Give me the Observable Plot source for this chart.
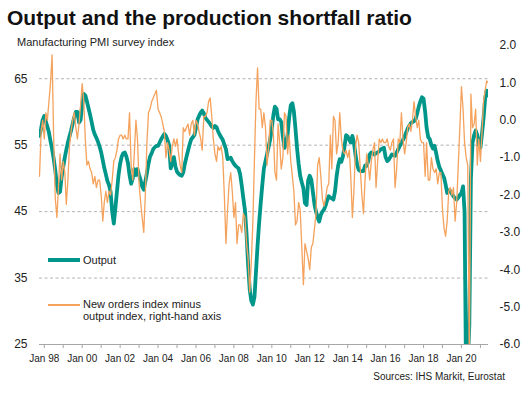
<!DOCTYPE html>
<html><head><meta charset="utf-8">
<script src="https://cdn.jsdelivr.net/npm/d3@7"></script>
<script src="https://cdn.jsdelivr.net/npm/@observablehq/plot@0.6"></script>
<style>
body{margin:0;background:#fff}
#wrap{position:relative;width:529px;height:394px;font-family:"Liberation Sans",Arial,Helvetica,sans-serif;color:#222;overflow:hidden;background:#fff}
#chart{position:absolute;left:0;top:0}
.abs{position:absolute;white-space:nowrap}
</style></head><body>
<div id="wrap">
<div id="chart"></div>
<div class="abs" style="left:7px;top:7px;font-size:21px;line-height:21px;font-weight:bold;color:#111">Output and the production shortfall ratio</div>
<div class="abs" style="left:17px;top:36.5px;font-size:11px;line-height:11px">Manufacturing PMI survey index</div>
<div class="abs" style="left:48px;top:258.3px;width:32px;height:3.5px;background:#00968a"></div>
<div class="abs" style="left:83px;top:254.5px;font-size:11px;line-height:11px">Output</div>
<div class="abs" style="left:48px;top:304.3px;width:32px;height:1.4px;background:#f5a25d"></div>
<div class="abs" style="left:83px;top:299.3px;font-size:11px;line-height:11.7px">New orders index minus<br>output index, right-hand axis</div>
<div class="abs" style="right:24px;top:372px;font-size:10px;line-height:10px">Sources: IHS Markit, Eurostat</div>
</div>
<script>
// Monthly values, Oct 1997 .. Jun 2021
const output = [
  56.4, 57.5, 58.8,
  59.4, 58.5, 57.8, 56.9, 55.6, 54.4, 53.0, 51.2, 49.0, 47.8, 48.0, 50.2,
  51.7, 53.2, 54.3, 55.4, 56.3, 57.2, 58.2, 59.2, 60.0, 60.0, 58.4, 58.8,
  61.0, 62.7, 62.5, 61.6, 60.6, 59.6, 58.5, 57.3, 56.6, 56.1, 55.5, 54.8,
  53.9, 52.7, 51.6, 50.6, 49.6, 49.0, 48.0, 45.0, 43.2, 45.5, 48.0, 50.5,
  52.2, 53.3, 53.8, 53.9, 53.3, 52.3, 50.5, 49.2, 50.0, 51.4, 50.5, 51.4,
  50.5, 49.7, 48.8, 48.3, 49.5, 50.8, 52.2, 53.3, 53.8, 54.4, 54.7, 54.9,
  54.9, 55.4, 55.9, 56.3, 56.7, 56.4, 55.8, 55.0, 51.5, 52.3, 53.2, 51.8,
  51.0, 50.7, 50.5, 50.4, 50.9, 52.2, 53.2, 54.2, 55.1, 55.9, 56.2, 56.5,
  57.6, 58.9, 59.4, 59.9, 60.2, 59.8, 59.1, 58.8, 58.5, 58.2, 57.8, 57.6,
  57.9, 57.7, 57.1, 56.6, 56.2, 55.8, 55.1, 54.4, 52.9, 53.0, 53.1, 52.6,
  52.2, 51.9, 51.7, 51.5, 50.6, 48.9, 47.0, 45.2, 41.6, 37.0, 33.3, 31.6,
  31.0, 32.2, 35.8, 39.9, 43.3, 46.3, 49.0, 51.5, 52.6, 53.7, 54.8, 55.9,
  57.6, 59.6, 60.8, 60.5, 58.9, 58.9, 58.5, 56.3, 54.6, 55.3, 56.6, 59.2,
  61.0, 61.3, 60.1, 57.5, 54.6, 52.2, 50.4, 49.4, 48.5, 46.3, 46.0, 49.7,
  50.4, 49.8, 48.0, 46.1, 45.0, 44.1, 43.5, 44.5, 45.0, 45.3, 45.9, 46.7,
  47.3, 47.1, 47.0, 46.8, 48.0, 50.3, 51.9, 52.9, 52.5, 53.3, 54.8, 56.5,
  56.3, 55.8, 55.4, 56.4, 55.4, 53.5, 52.1, 51.3, 51.1, 51.1, 51.1, 51.9,
  51.9, 52.6, 53.6, 53.9, 53.8, 53.6, 53.8, 53.9, 54.1, 54.4, 54.5, 54.6,
  53.2, 52.6, 52.8, 53.2, 53.6, 53.5, 53.4, 53.9, 54.4, 54.9, 55.4, 55.8,
  56.3, 56.9, 57.5, 57.9, 58.3, 58.5, 58.6, 58.9, 59.8, 60.8, 61.6, 62.2,
  62.0, 60.0, 57.6, 56.2, 55.9, 55.0, 54.5, 54.9, 53.8, 52.6, 51.7, 51.2,
  50.6, 50.1, 49.1, 47.8, 48.2, 48.1, 47.7, 47.3, 47.0, 46.8, 47.1, 47.5,
  47.8, 48.8, 45.0, 18.0, 22.0, 28.0, 50.0, 55.4, 56.5, 57.2, 56.5, 55.0,
  54.6, 56.8, 59.0, 62.0, 63.2, 62.5
];
// New orders index minus output index (right-hand axis)
const shortfall = [
  -1.5, -0.3, 0.0,
  -0.5, 0.2, 0.0, 0.5, 1.0, 1.75, -0.5, -2.1, -2.6, -1.8, -0.9, -1.6,
  -1.1, -1.4, -2.25, -1.6, -0.7, -0.3, 0.0, 0.2, -0.2, -0.5, -0.1, 0.4,
  0.98, 0.5, -0.5, -1.2, -1.1, -1.3, -1.4, -1.7, -1.5, -1.8, -1.6, -1.6,
  -2.0, -2.7, -2.2, -1.9, -2.2, -1.9, -2.0, -1.6, -1.1, -1.0, -0.8, -0.5,
  -0.4, -0.4, -0.5, -0.4, -0.5, -0.5, 0.2, -1.2, -1.6, -0.9, 0.0, -0.5,
  -1.7, -2.2, -2.6, -3.0, -2.0, -0.6, 0.2, 0.3, 0.5, 0.6, 0.7, 0.8,
  0.3, 0.2, 0.1, -0.1, -0.3, -1.0, -0.6, -0.8, -1.1, -0.7, -0.5, -0.7,
  -0.5, -0.9, -1.2, -1.4, -0.2, -0.3, -0.2, -0.1, -0.4, -0.1, 0.0, -0.4,
  0.0, -0.1, -0.3, -0.5, -0.8, 0.1, 0.1, 0.2, 0.5, 0.6, 0.1, -0.5,
  -0.9, -1.1, -0.7, -0.8, -0.7, -1.0, -2.0, -3.3, -2.4, -1.7, -1.4, -1.9,
  -2.6, -2.2, -3.3, -2.8, -2.8, -3.0, -2.5, -2.6, -3.3, -3.7, -4.6, -3.8,
  -2.7, -1.0, 0.5, 1.4, 0.3, 0.3, -0.2, 0.2, -0.2, -1.2, -0.7, 0.0,
  0.0, -0.4, -1.4, -1.6, -0.1, -0.6, -1.3, -1.0, 0.2, 0.1, -0.9, -0.4,
  -1.1, -1.5, -1.9, -2.8, -2.7, -2.2, -2.4, -3.4, -4.4, -3.3, -3.5, -3.7,
  -4.0, -3.4, -3.3, -2.9, -2.5, -1.2, -1.0, -1.5, -2.1, -2.3, -2.1, -1.8,
  -1.7, -0.4, -1.3, 0.1, 0.0, -0.9, -0.6, 0.2, -0.5, -0.8, -0.9, -0.8,
  -1.0, -0.8, -1.5, -2.6, -1.9, -0.7, -0.4, -0.6, -1.3, -2.0, -2.5, -1.6,
  -0.9, -1.2, -1.6, -1.1, -0.8, -0.6, -1.8, -1.1, -0.5, -0.6, -0.5, -0.6,
  -0.6, -0.5, -0.7, -0.8, -0.6, -0.5, -1.8, -1.3, -0.5, -0.6, 0.2, -0.5,
  -0.9, -0.6, -0.2, -0.1, -0.3, 0.0, 0.5, 0.1, -0.2, 0.0, -0.5, -0.6,
  -0.6, -1.5, -0.6, -1.6, -1.6, -1.0, -1.3, -1.4, -1.3, -1.7, -1.4, -1.4,
  -2.4, -2.9, -3.1, -2.7, -1.9, -1.8, -2.0, -1.8, -2.7, -2.2, -1.2, -0.2,
  0.9, 0.3, -0.6, -1.0, -1.2, -6.6, 0.7, -0.2, -0.1, 0.3, -1.2, -0.5,
  -1.1, -0.3, 0.5, 0.8, 1.05, 1.0
];
const leftTicks = [25, 35, 45, 55, 65];
const gridValues = [35, 45, 55, 65];
const rightTicks = [-6, -5, -4, -3, -2, -1, 0, 1, 2];
const labelYears = [1998, 2000, 2002, 2004, 2006, 2008, 2010, 2012, 2014, 2016, 2018, 2020];
const tickYears = [1998, 1999, 2000, 2001, 2002, 2003, 2004, 2005, 2006, 2007, 2008, 2009, 2010, 2011, 2012, 2013, 2014, 2015, 2016, 2017, 2018, 2019, 2020, 2021];
const leftDomain = [25, 70];
const rightDomain = [-6, 2];

const k = (leftDomain[1] - leftDomain[0]) / (rightDomain[1] - rightDomain[0]);
const toLeft = r => leftDomain[0] + (r - rightDomain[0]) * k;
const fromLeft = v => rightDomain[0] + (v - leftDomain[0]) / k;

const months = output.map((_, i) => new Date(Date.UTC(1997, 9 + i, 1)));
const outData = output.map((v, i) => ({date: months[i], value: v}));
const sfData = shortfall.map((v, i) => ({date: months[i], value: toLeft(v), ratio: v}));

const chart = Plot.plot({
  width: 529, height: 394,
  marginLeft: 39, marginRight: 41, marginTop: 45, marginBottom: 50,
  style: {fontFamily: '"Liberation Sans", Arial, sans-serif', fontSize: "12px", color: "#222", background: "transparent"},
  x: {type: "utc", domain: [new Date(Date.UTC(1997, 9, 1)), new Date(Date.UTC(2021, 5, 5))]},
  y: {domain: leftDomain},
  marks: [
    Plot.ruleY(gridValues, {stroke: "#b3b3b3", strokeDasharray: "3,2.5", strokeWidth: 1}),
    Plot.ruleY([leftDomain[0]], {stroke: "#a6a6a6", strokeWidth: 1}),
    Plot.axisX(tickYears.map(y => new Date(Date.UTC(y, 0, 1))), {tickSize: 4, stroke: "#a6a6a6", tickFormat: () => "", label: null}),
    Plot.axisX(labelYears.map(y => new Date(Date.UTC(y, 0, 1))), {tickSize: 0, tickPadding: 10, tickFormat: d3.utcFormat("%b %y"), fontSize: 10, label: null}),
    Plot.axisY(leftTicks, {anchor: "left", tickSize: 0, tickPadding: 12, fontSize: 12, label: null}),
    Plot.axisY(rightTicks.map(toLeft), {anchor: "right", tickSize: 0, tickPadding: 11, fontSize: 12, label: null,
      tickFormat: v => { const r = Math.round(fromLeft(v) * 10) / 10; return (r === 0 ? 0 : r).toFixed(1); }}),
    Plot.lineY(outData, {x: "date", y: "value", stroke: "#00968a", strokeWidth: 3.8, strokeLinejoin: "round", clip: true}),
    Plot.lineY(sfData, {x: "date", y: "value", stroke: "#f5a25d", strokeWidth: 1.3, strokeLinejoin: "round", clip: true})
  ]
});
document.getElementById("chart").appendChild(chart);
</script>
</body></html>
